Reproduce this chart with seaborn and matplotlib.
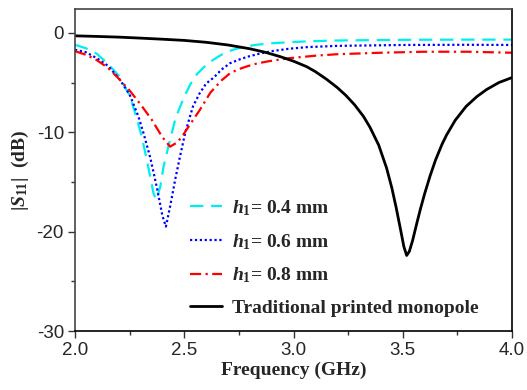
import numpy as np
import pandas as pd
import matplotlib
matplotlib.use("Agg")
import matplotlib.pyplot as plt
import seaborn as sns
from matplotlib.ticker import MultipleLocator

# ---- data ----
f_h04 = [2.00, 2.05, 2.10, 2.15, 2.20, 2.25, 2.28, 2.305, 2.33, 2.345, 2.36, 2.372,
         2.39, 2.405, 2.43, 2.46, 2.50, 2.53, 2.56, 2.60, 2.63, 2.67, 2.72, 2.77, 2.83,
         2.90, 2.98, 3.08, 3.20, 3.50, 3.80, 4.00]
s_h04 = [-1.2, -1.55, -2.1, -3.1, -4.3, -6.3, -8.4, -10.4, -12.9, -14.6, -16.2, -16.8,
         -15.5, -13.5, -11.2, -8.6, -6.4, -5.1, -4.1, -3.25, -2.75, -2.2, -1.72, -1.42, -1.2,
         -1.05, -0.94, -0.84, -0.77, -0.7, -0.68, -0.68]

f_h06 = [2.00, 2.05, 2.10, 2.15, 2.20, 2.25, 2.29, 2.315, 2.345, 2.375, 2.40, 2.416,
         2.435, 2.46, 2.48, 2.505, 2.54, 2.57, 2.60, 2.635, 2.67, 2.71, 2.75, 2.79, 2.85,
         2.91, 2.98, 3.06, 3.20, 3.50, 3.80, 4.00]
s_h06 = [-1.7, -1.95, -2.55, -3.3, -4.55, -6.2, -8.4, -10.2, -12.6, -15.6, -18.4, -19.5,
         -17.5, -14.6, -12.5, -10.0, -7.4, -6.1, -5.1, -4.5, -3.7, -3.05, -2.7, -2.4, -2.06,
         -1.81, -1.6, -1.44, -1.31, -1.22, -1.2, -1.22]

f_h08 = [2.00, 2.05, 2.10, 2.15, 2.20, 2.25, 2.30, 2.35, 2.40, 2.435, 2.47, 2.50, 2.53,
         2.57, 2.62, 2.67, 2.71, 2.75, 2.79, 2.83, 2.88, 2.98, 3.10, 3.20, 3.40, 3.60, 3.80, 4.00]
s_h08 = [-1.85, -2.2, -2.75, -3.5, -4.6, -5.8, -7.2, -8.7, -10.5, -11.45, -11.0, -10.1, -9.1,
         -7.8, -6.0, -4.8, -4.05, -3.65, -3.35, -3.1, -2.88, -2.55, -2.3, -2.15, -2.0, -1.9,
         -1.9, -2.0]

f_trad = [2.00, 2.10, 2.20, 2.30, 2.40, 2.50, 2.60, 2.70, 2.80, 2.87, 2.94, 3.00, 3.06,
          3.10, 3.15, 3.20, 3.24, 3.28, 3.32, 3.35, 3.39, 3.426, 3.45, 3.47, 3.49, 3.505,
          3.518, 3.53, 3.545, 3.565, 3.58, 3.60, 3.625, 3.65, 3.68, 3.70, 3.74, 3.79, 3.84,
          3.884, 3.94, 4.00]
s_trad = [-0.30, -0.36, -0.43, -0.53, -0.64, -0.76, -0.95, -1.22, -1.6, -1.95, -2.4, -2.85,
          -3.4, -3.9, -4.65, -5.5, -6.3, -7.25, -8.4, -9.5, -11.3, -13.6, -15.6, -17.6, -19.8,
          -21.5, -22.4, -22.0, -20.9, -19.1, -17.8, -16.2, -14.4, -12.8, -11.2, -10.3, -8.8,
          -7.4, -6.4, -5.7, -5.0, -4.5]

labels = [r"$h_1$= 0.4 mm", r"$h_1$= 0.6 mm", r"$h_1$= 0.8 mm", "Traditional printed monopole"]
colors = ["#00EEEE", "#0000FF", "#FF0000", "#000000"]
styles = [(0, (6, 3.5)), (0, (1, 1.2)), (0, (5, 2, 1, 2)), "-"]
widths = [1.6, 1.6, 1.6, 2.0]

xticks = [2.0, 2.5, 3.0, 3.5, 4.0]
yticks = [-30, -20, -10, 0]

# ---- style ----
sns.set_style("ticks")
plt.rcParams["font.family"] = ["Liberation Sans", "DejaVu Sans"]
plt.rcParams["mathtext.fontset"] = "custom"
plt.rcParams["mathtext.it"] = "Liberation Serif:italic:bold"
plt.rcParams["mathtext.rm"] = "Liberation Serif:bold"
plt.rcParams["mathtext.bf"] = "Liberation Serif:bold"

fig = plt.figure(figsize=(5.27, 3.90), dpi=100)
ax = fig.add_axes([75 / 527, 1 - 331 / 390, 437 / 527, 322 / 390])

series = [(f_h04, s_h04), (f_h06, s_h06), (f_h08, s_h08), (f_trad, s_trad)]
for (fx, sy), lab, c, ls, lw in zip(series, labels, colors, styles, widths):
    df = pd.DataFrame({"f": fx, "s": sy})
    sns.lineplot(data=df, x="f", y="s", ax=ax, color=c, linestyle=ls, linewidth=lw,
                 label=lab, estimator=None, sort=False)

ax.set_xlim(2.0, 4.0)
ax.set_ylim(-30, 2.4)
ax.set_xticks(xticks)
ax.set_xticklabels([f"{v:.1f}" for v in xticks])
ax.set_yticks(yticks)
ax.set_yticklabels([str(v) for v in yticks])
ax.xaxis.set_minor_locator(MultipleLocator(0.25))
ax.yaxis.set_minor_locator(MultipleLocator(5))
ax.tick_params(axis="both", which="major", direction="out", length=5, width=1,
               labelsize=13.5, color="#333333", pad=3)
ax.tick_params(axis="both", which="minor", direction="out", length=3, width=1, color="#333333")
ax.tick_params(top=False, right=False, which="both")

for name, sp in ax.spines.items():
    sp.set_visible(True)
    sp.set_linewidth(1.2)
    sp.set_color("#000000" if name in ("right", "bottom") else "#444444")

serif = {"family": "Liberation Serif", "weight": "bold", "size": 14}
ax.set_xlabel("Frequency (GHz)", fontdict=serif, labelpad=2)
ax.set_ylabel(r"$|S_{11}|$  (dB)", fontdict=serif, labelpad=4)

leg = ax.legend(loc="center left", bbox_to_anchor=(0.263, 0.228), frameon=False,
                prop={"family": "Liberation Serif", "weight": "bold", "size": 14},
                handlelength=1.65, handletextpad=0.5, labelspacing=0.72,
                borderpad=0, borderaxespad=0)

fig.savefig("out.png", dpi=100)
